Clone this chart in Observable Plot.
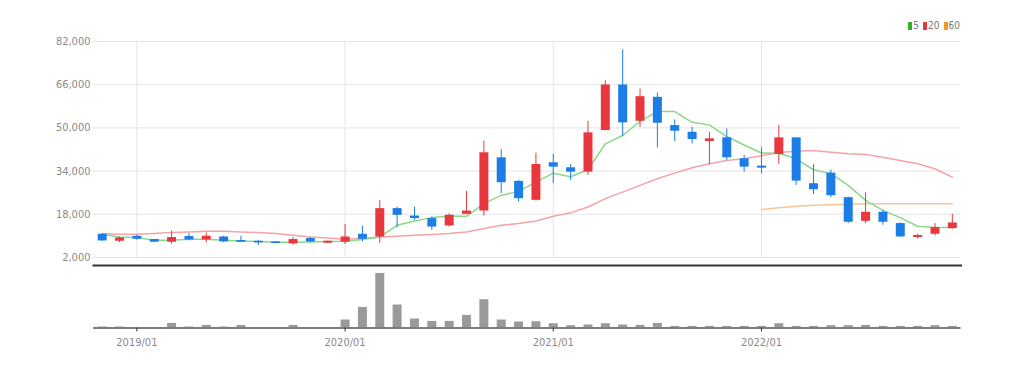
<!DOCTYPE html>
<html>
<head>
<meta charset="utf-8">
<script src="https://cdn.jsdelivr.net/npm/d3@7"></script>
<script src="https://cdn.jsdelivr.net/npm/@observablehq/plot@0.6"></script>
<style>
  body { margin: 0; background: #fff; }
  #wrap { position: relative; width: 1027px; height: 368px; overflow: hidden;
          font-family: "Liberation Sans Narrow", "DejaVu Sans Condensed", sans-serif; }
  #main { position: absolute; left: 0; top: 0; }
  #vol { position: absolute; left: 0; top: 263px; }
  #legend { position: absolute; right: 67px; top: 20px; font-size: 10px; color: #777;
            display: flex; align-items: center; line-height: 12px; }
  #legend .sw { display: inline-block; width: 4px; height: 8px; margin: 0 1px 0 4px; }
  svg { overflow: visible; }
</style>
</head>
<body>
<div id="wrap">
  <div id="legend"></div>
  <div id="main"></div>
  <div id="vol"></div>
</div>
<script>
const months = ["2018/11","2018/12",
  "2019/01","2019/02","2019/03","2019/04","2019/05","2019/06","2019/07","2019/08","2019/09","2019/10","2019/11","2019/12",
  "2020/01","2020/02","2020/03","2020/04","2020/05","2020/06","2020/07","2020/08","2020/09","2020/10","2020/11","2020/12",
  "2021/01","2021/02","2021/03","2021/04","2021/05","2021/06","2021/07","2021/08","2021/09","2021/10","2021/11","2021/12",
  "2022/01","2022/02","2022/03","2022/04","2022/05","2022/06","2022/07","2022/08","2022/09","2022/10","2022/11","2022/12"];

const open = [10600,8020,9870,8650,7650,9760,8500,9600,8280,8020,7760,7020,9020,7280,7650,10600,9610,20100,17360,16400,
  13670,18000,19210,38930,30180,23160,37080,35240,33610,49010,65900,52450,61320,50860,48380,44950,46320,38560,35830,40150,
  46320,29330,33240,24160,15400,18730,14560,9390,10600,12710];
const high = [10800,9600,10230,8700,11820,10860,11080,9900,9870,8390,7900,9390,9390,8100,14190,13560,23160,20690,20690,17000,
  18180,26480,45060,42000,30550,40630,40150,36450,52450,67480,78930,64410,62940,52970,50230,48380,49640,39780,42620,50860,
  46320,36450,34350,24380,26000,19470,14780,10600,14560,18000];
const low = [8000,7540,8390,7500,6910,8130,7390,7500,7540,6430,7050,6540,7540,7200,6800,7760,7170,12930,15770,12080,
  13300,17880,17360,25640,22530,22900,29330,30550,32390,49010,46900,50230,42620,44950,44100,36350,37930,33610,33020,36450,
  28700,25380,24140,14560,14560,13930,9390,8900,9980,12450];
const close = [8130,9240,8760,7650,9390,8500,9870,7760,7650,7390,7170,8650,7760,8020,9600,8760,20100,17620,16400,13300,
  17620,19210,40780,29700,23790,36450,35460,33610,48160,65900,51860,61570,51720,48760,45690,45950,38930,35460,35090,46320,
  30290,27110,24900,15040,18730,15040,9610,10120,13080,14780];
const volume = [100000,100000,30000,30000,460000,100000,260000,100000,260000,30000,30000,260000,30000,30000,800000,2060000,
  5460000,2300000,900000,660000,660000,1260000,2830000,800000,600000,630000,430000,230000,300000,430000,300000,260000,460000,
  160000,160000,160000,160000,160000,160000,430000,160000,160000,230000,230000,260000,160000,160000,160000,230000,160000];
const ma5 = [10600,9600,9400,8400,8400,8760,8760,8400,8130,7900,7650,7650,7760,7900,8000,8650,9600,13930,15520,16770,
  17250,17250,21940,25000,26490,29920,33240,31910,34500,44100,47170,52450,56030,56030,52080,51120,46800,43660,40700,40630,
  38560,34500,33020,28700,23160,19470,16770,13560,13080,13080];
const ma20 = [10860,10600,10600,10860,11230,11450,11710,11710,11450,11230,10860,10240,9600,9240,8760,9020,9600,9870,10240,10490,
  10860,11450,12710,13930,14560,15520,17250,18540,20690,23790,26230,28700,31170,33240,35240,36710,37930,38560,39670,40890,
  41370,41630,41000,40410,40150,39150,37930,36710,34870,31770];
const ma60 = [null,null,null,null,null,null,null,null,null,null,null,null,null,null,null,null,null,null,null,null,
  null,null,null,null,null,null,null,null,null,null,null,null,null,null,null,null,null,null,19730,20470,
  20950,21310,21570,21690,21870,21870,21870,21870,21870,21870];

const yTicks = [2000,18000,34000,50000,66000,82000];
const xTicks = ["2019/01","2020/01","2021/01","2022/01"];
const legendLabels = ["5","20","60"];
const legendColors = ["#27b427","#e8383d","#f5962c"];

const UP = "#e8383d", DOWN = "#1c7de6";
const data = months.map((m, i) => ({month: m, open: open[i], high: high[i], low: low[i], close: close[i],
  volume: volume[i], ma5: ma5[i], ma20: ma20[i], ma60: ma60[i]}));
const ups = data.filter(d => d.close >= d.open);
const downs = data.filter(d => d.close < d.open);

const font = "'Liberation Sans Narrow', 'DejaVu Sans Condensed', sans-serif";
const xOpts = {type: "point", domain: months, padding: 0.5, round: false};

const main = Plot.plot({
  width: 1027, height: 263,
  marginLeft: 93, marginRight: 66.5, marginTop: 41, marginBottom: 6,
  x: {...xOpts, axis: null},
  y: {domain: [2000, 82000], axis: null},
  style: {fontFamily: font, fontSize: "11px", background: "transparent", overflow: "visible"},
  marks: [
    Plot.gridY(yTicks, {stroke: "#e4e4e4", strokeOpacity: 1}),
    Plot.gridX(xTicks, {stroke: "#e4e4e4", strokeOpacity: 1}),
    Plot.axisY(yTicks, {tickSize: 0, tickPadding: 3, tickFormat: d3.format(","), fill: "#8a8a8a", label: null}),
    Plot.line(data, {x: "month", y: "ma20", stroke: "#f5a3a6", strokeWidth: 1.5}),
    Plot.line(data, {x: "month", y: "ma60", stroke: "#f7c596", strokeWidth: 1.5}),
    Plot.line(data, {x: "month", y: "ma5", stroke: "#8ad88a", strokeWidth: 1.5}),
    Plot.ruleX(ups, {x: "month", y1: "low", y2: "high", stroke: UP, strokeWidth: 1}),
    Plot.ruleX(downs, {x: "month", y1: "low", y2: "high", stroke: DOWN, strokeWidth: 1}),
    Plot.ruleX(ups, {x: "month", y1: "open", y2: "close", stroke: UP, strokeWidth: 9}),
    Plot.ruleX(downs, {x: "month", y1: "open", y2: "close", stroke: DOWN, strokeWidth: 9})
  ]
});
document.getElementById("main").appendChild(main);

const vol = Plot.plot({
  width: 1027, height: 105,
  marginLeft: 93, marginRight: 66.5, marginTop: 2, marginBottom: 40.5,
  x: {...xOpts, axis: null},
  y: {domain: [0, 6250000], axis: null},
  style: {fontFamily: font, fontSize: "11px", background: "transparent", overflow: "visible"},
  marks: [
    Plot.frame({anchor: "top", stroke: "#333", strokeWidth: 2}),
    Plot.ruleX(data, {x: "month", y1: 0, y2: "volume", stroke: "#9a9a9a", strokeWidth: 9}),
    Plot.ruleY([0], {stroke: "#7d7d7d", strokeWidth: 2}),
    Plot.axisX(xTicks, {tickSize: 4, tickPadding: 6, stroke: "#333", fill: "#8a8a8a", label: null})
  ]
});
document.getElementById("vol").appendChild(vol);

const legend = document.getElementById("legend");
legendLabels.forEach((lab, i) => {
  const sw = document.createElement("span");
  sw.className = "sw";
  sw.style.background = legendColors[i];
  legend.appendChild(sw);
  const t = document.createElement("span");
  t.textContent = lab;
  legend.appendChild(t);
});
</script>
</body>
</html>
